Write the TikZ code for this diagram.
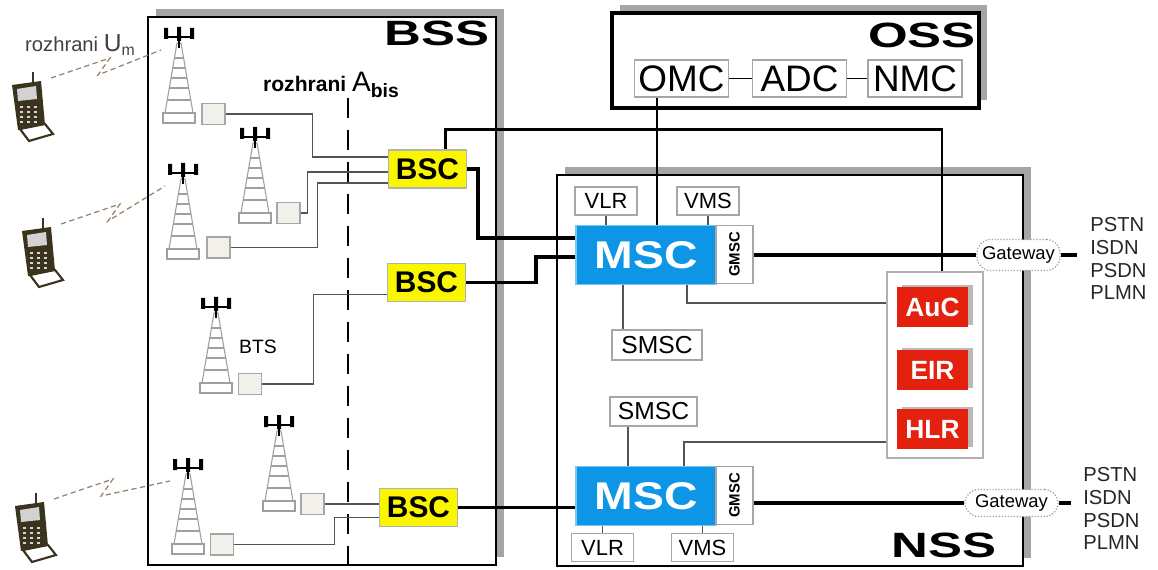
\documentclass[tikz,border=0pt]{standalone}
\usepackage{fontspec}
\setmainfont{Liberation Sans}
\usetikzlibrary{shadows}
\definecolor{mscblue}{RGB}{14,150,230}
\definecolor{dbred}{RGB}{228,32,14}
\definecolor{bscyellow}{RGB}{250,246,0}
\definecolor{btsfill}{RGB}{242,240,234}
\definecolor{shade}{RGB}{165,165,165}
\definecolor{phonecol}{RGB}{58,52,30}
\tikzset{
    sysbox/.style = {
        draw,
        shape=rectangle,
        fill=white,
        line width=1.6pt,
        inner sep=0pt,
        drop shadow={shadow xshift=0.16cm, shadow yshift=0.16cm, fill=shade, opacity=1}
    },
    titletext/.style = {
        inner sep=0pt,
        font=\fontsize{20}{20}\selectfont\bfseries
    },
    oambox/.style = {
        draw=gray!70,
        fill=white,
        line width=0.7pt,
        inner sep=0pt,
        minimum width=1.88cm,
        minimum height=0.74cm,
        font=\fontsize{21}{21}\selectfont
    },
    smallbox/.style = {
        draw=gray!70,
        fill=white,
        line width=0.7pt,
        inner sep=0pt,
        minimum width=1.24cm,
        minimum height=0.56cm,
        font=\fontsize{12.5}{12.5}\selectfont
    },
    mscbox/.style = {
        draw=mscblue!55,
        fill=mscblue,
        text=white,
        line width=0.8pt,
        inner sep=0pt,
        minimum width=2.8cm,
        minimum height=1.18cm,
        font=\fontsize{22}{22}\selectfont\bfseries
    },
    gmscbox/.style = {
        draw=gray!70,
        fill=white,
        line width=0.7pt,
        inner sep=0pt,
        minimum width=0.74cm,
        minimum height=1.16cm,
        font=\fontsize{8.5}{8.5}\selectfont\bfseries
    },
    bscbox/.style = {
        draw=gray!60,
        fill=bscyellow,
        line width=0.7pt,
        inner sep=0pt,
        minimum width=1.56cm,
        minimum height=0.76cm,
        font=\fontsize{17}{17}\selectfont\bfseries
    },
    dbbox/.style = {
        fill=dbred,
        text=white,
        inner sep=0pt,
        minimum width=1.42cm,
        minimum height=0.8cm,
        font=\fontsize{15}{15}\selectfont\bfseries,
        drop shadow={shadow xshift=0.1cm, shadow yshift=0.04cm, fill=gray!55, opacity=1}
    },
    btsbox/.style = {
        draw=gray!70,
        fill=btsfill,
        line width=0.7pt,
        inner sep=0pt,
        minimum width=0.46cm,
        minimum height=0.42cm
    },
    gwbox/.style = {
        draw=gray!75,
        densely dotted,
        fill=white,
        line width=0.7pt,
        rounded corners=0.27cm,
        inner sep=0pt,
        font=\fontsize{10.5}{10.5}\selectfont
    },
    netlist/.style = {
        align=left,
        inner sep=0pt,
        text=black!85,
        font=\fontsize{11.5}{13}\selectfont
    },
    trunk/.style = {draw, line width=2.2pt},
    ctrlline/.style = {draw, line width=1.3pt},
    wire/.style = {draw=gray!65!black, line width=0.6pt},
    radio/.style = {draw=brown!40!gray, dash pattern=on 3pt off 2pt, line width=0.7pt},
    tower/.pic = {
        \path[draw=gray!75, fill=white, line width=0.6pt] (-2,15) -- (2,15) -- (14,85) -- (-14,85) -- cycle;
        \foreach \y/\w in {30/4.6, 40/6.3, 50/8, 60/9.7, 72/11.8}
            \draw[gray!75, line width=0.6pt] (-\w,\y) -- (\w,\y);
        \path[draw=gray!75, fill=white, line width=0.6pt] (-16,85) rectangle (16,95);
        \fill[black] (-15,0) rectangle (-11,11) (-2,-1) rectangle (2,13) (11,0) rectangle (15,11);
        \draw[black, line width=0.8pt] (-13,9) -- (13,9) (0,13) -- (0,20);
        \coordinate (-ant) at (-18,22);
    },
    phone/.pic = {
        \draw[phonecol, line width=1.4pt] (0,0) -- (0,12);
        \fill[phonecol] (-21,13) -- (8,9) -- (12,53) -- (-15,58) -- cycle;
        \fill[gray!35] (-16,17) -- (3,14) -- (4,27) -- (-15,29) -- cycle;
        \foreach \r in {0,1,2,3}
            \foreach \c in {0,1,2}
                \fill[white!80!phonecol] ({-13+7*\c},{34+5*\r}) rectangle +(3,2);
        \path[draw=phonecol, fill=white, line width=1.2pt] (-13,57) -- (12,52) -- (20,62) -- (-4,69) -- cycle;
        \coordinate (-ant) at (18,6);
    }
}

\begin{document}
\begin{tikzpicture}[x=0.02cm, y=-0.02cm]
    \useasboundingbox (0,0) rectangle (1158,570);

    \node[sysbox, minimum width=6.96cm, minimum height=10.96cm] (bss) at (322,291) {};
    \node[sysbox, line width=2.2pt, minimum width=7.34cm, minimum height=1.9cm] (oss) at (795.5,60.5) {};
    \node[sysbox, minimum width=9.32cm, minimum height=7.82cm] (nss) at (790,370.5) {};
    \node[titletext] (bsstitle) at (437,33)  {\scalebox{1.45}[1]{BSS}};
    \node[titletext] (osstitle) at (922,35)  {\scalebox{1.45}[1]{OSS}};
    \node[titletext] (nsstitle) at (944,545) {\scalebox{1.45}[1]{NSS}};

    \node[oambox] (omc) at (681.5,78.5) {OMC};
    \node[oambox] (adc) at (799.5,78.5) {ADC};
    \node[oambox] (nmc) at (915,78.5)   {NMC};

    \node[mscbox]  (mscA)  at (646,255)     {\scalebox{1.2}[1]{MSC}};
    \node[gmscbox] (gmscA) at (734.5,254.5) {\rotatebox{90}{GMSC}};
    \node[smallbox] (vlrA) at (606,201) {VLR};
    \node[smallbox] (vmsA) at (708,201) {VMS};
    \node[smallbox, minimum width=1.8cm, minimum height=0.6cm, font=\fontsize{14}{14}\selectfont] (smscA) at (657,345) {SMSC};

    \node[mscbox]  (mscB)  at (646,496)     {\scalebox{1.2}[1]{MSC}};
    \node[gmscbox] (gmscB) at (734.5,495.5) {\rotatebox{90}{GMSC}};
    \node[smallbox] (vlrB) at (602.5,547.5) {VLR};
    \node[smallbox] (vmsB) at (702.5,547.5) {VMS};
    \node[smallbox, minimum width=1.74cm, minimum height=0.58cm, font=\fontsize{14}{14}\selectfont] (smscB) at (653.5,411.5) {SMSC};

    \node[draw=gray!60, fill=white, line width=0.7pt, minimum width=1.92cm, minimum height=3.72cm] (db) at (935,365) {};
    \node[dbbox] (auc) at (932.5,307) {AuC};
    \node[dbbox] (eir) at (932.5,370) {EIR};
    \node[dbbox] (hlr) at (932.5,429) {HLR};

    \node[gwbox, minimum width=1.66cm, minimum height=0.62cm] (gwA) at (1018.5,255) {Gateway};
    \node[gwbox, minimum width=1.86cm, minimum height=0.54cm] (gwB) at (1011.5,503) {Gateway};
    \node[netlist, anchor=north west] (netA) at (1090,217) {PSTN\\ISDN\\PSDN\\PLMN};
    \node[netlist, anchor=north west] (netB) at (1083,467) {PSTN\\ISDN\\PSDN\\PLMN};

    \node[bscbox] (bscA) at (427.5,169)   {BSC};
    \node[bscbox] (bscB) at (426.5,282.5) {BSC};
    \node[bscbox] (bscC) at (418.5,507.5) {BSC};

    \pic (towA) at (179,28)  {tower};
    \pic (towB) at (255,128) {tower};
    \pic (towC) at (183,164) {tower};
    \pic (towD) at (216,298) {tower};
    \pic (towE) at (279,416) {tower};
    \pic (towF) at (188,459) {tower};
    \node[btsbox] (btsA) at (213.5,114)   {};
    \node[btsbox] (btsB) at (288.5,213)   {};
    \node[btsbox] (btsC) at (218.5,247.5) {};
    \node[btsbox] (btsD) at (250,384)     {};
    \node[btsbox] (btsE) at (312.5,504)   {};
    \node[btsbox] (btsF) at (222,544.5)   {};
    \node[font=\fontsize{11}{11}\selectfont] (btslabel) at (258,347) {BTS};

    \pic (phA) at (33,72)  {phone};
    \pic (phB) at (43,218) {phone};
    \pic (phC) at (36,493) {phone};

    \node[text=black!75, font=\fontsize{11.5}{11.5}\selectfont] (umlabel) at (80,45)
        {rozhrani \fontsize{14}{14}\selectfont U\raisebox{-0.35ex}{\fontsize{9}{9}\selectfont m}};
    \node[font=\fontsize{12}{12}\selectfont\bfseries] (abislabel) at (331,85)
        {rozhrani \mdseries\fontsize{16}{16}\selectfont A\raisebox{-0.45ex}{\bfseries\fontsize{11}{11}\selectfont bis}};
    \coordinate (abisTop) at (348,98);
    \coordinate (abisBot) at (348,564);
    \path[draw, line width=1.1pt, dash pattern=on 0.4cm off 0.24cm] (abisTop) -- (abisBot);

    \path[radio] (phA-ant) -- +(59,-20) -- +(47,-3) -- (towA-ant);
    \path[radio] (phB-ant) -- +(59,-20) -- +(47,-3) -- (towC-ant);
    \path[radio] (phC-ant) -- +(59,-20) -- +(47,-3) -- (towF-ant);

    \path[wire] (btsA.east) -- ++(87,0) |- ([yshift=0.24cm]bscA.west);
    \path[wire] (btsB.east) -- ++(7,0) |- ([yshift=-0.06cm]bscA.west);
    \path[wire] (btsC.east) -- ++(87,0) |- ([yshift=-0.28cm]bscA.west);
    \path[wire] (btsD.east) -- ++(51,0) |- ([yshift=-0.24cm]bscB.west);
    \path[wire] (btsE.east) -- (btsE.east -| bscC.west);
    \path[wire] (btsF.east) -- ++(100,0) |- ([yshift=-0.2cm]bscC.west);

    \path[trunk] (bscA.east) -- ++(11,0) |- ([yshift=0.34cm]mscA.west);
    \path[trunk] (bscB.east) -- ++(70,0) |- ([yshift=-0.04cm]mscA.west);
    \path[trunk] (bscC.east) -- (bscC.east -| mscB.west);
    \path[trunk] (gmscA.east |- gwA.west) -- (gwA.west);
    \path[trunk] (gwA.east) -- ++(16,0);
    \path[trunk] (gmscB.east |- gwB.west) -- (gwB.west);
    \path[trunk] (gwB.east) -- ++(12,0);

    \path[ctrlline] ([xshift=0.36cm]bscA.north) -- ++(0,-20) -| ([xshift=0.14cm]db.north);
    \path[draw, line width=0.9pt] ([xshift=0.22cm]mscA.north) -- ([xshift=0.22cm]mscA.north |- omc.south);
    \path[draw, line width=0.9pt] (omc) -- (adc) (adc) -- (nmc);

    \path[wire] (vlrA.south) -- (vlrA.south |- mscA.north);
    \path[wire] (vmsA.south) -- (vmsA.south |- mscA.north);
    \path[wire] ([xshift=-0.46cm]mscA.south) -- ([xshift=-0.46cm]mscA.south |- smscA.north);
    \path[wire] ([xshift=0.82cm]mscA.south) |- ([yshift=1.24cm]db.west);
    \path[wire] ([xshift=-0.36cm]mscB.north) -- ([xshift=-0.36cm]mscB.north |- smscB.south);
    \path[wire] ([xshift=0.76cm]mscB.north) |- ([yshift=-1.54cm]db.west);
    \path[wire] (vlrB.north) -- (vlrB.north |- mscB.south);
    \path[wire] (vmsB.north) -- (vmsB.north |- mscB.south);
\end{tikzpicture}
\end{document}
